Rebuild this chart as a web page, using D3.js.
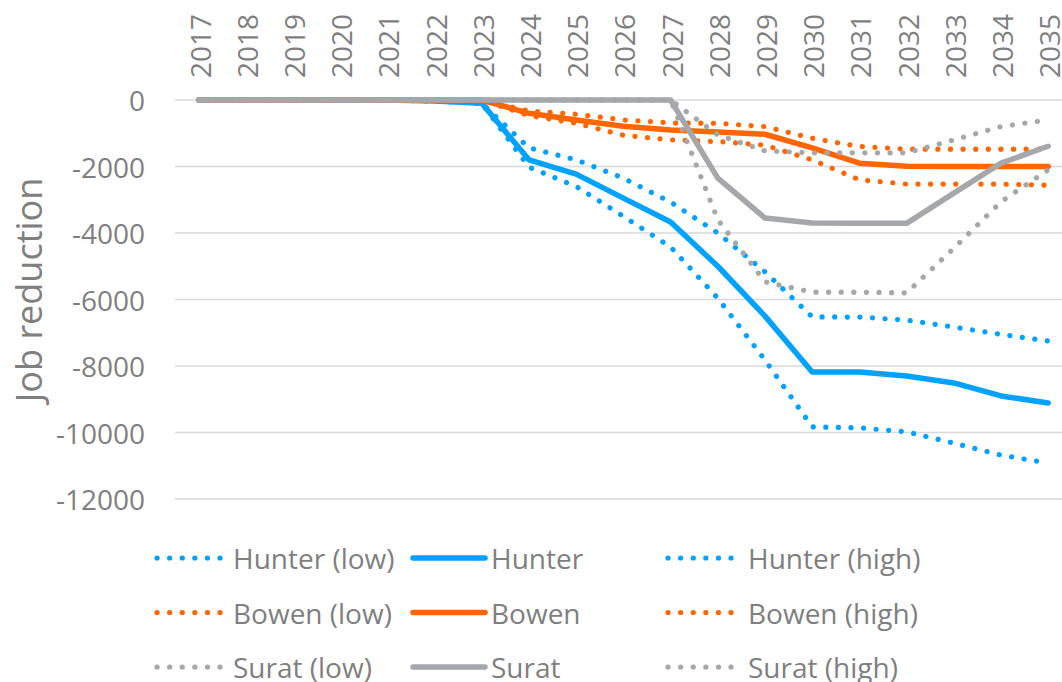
<!DOCTYPE html>
<html>
<head>
<meta charset="utf-8">
<script src="https://cdn.jsdelivr.net/npm/d3@7"></script>
<style>
    html, body { margin: 0; padding: 0; background: #fff; }
    svg { display: block; font-family: "Open Sans", sans-serif; }
    .tick-label, .legend text { fill: #7f7f7f; font-size: 28px; }
    .axis-title { fill: #7f7f7f; font-size: 36px; }
</style>
</head>
<body>
<div id="content"></div>
<script>
// Category labels (top axis)
var years = ["2017", "2018", "2019", "2020", "2021", "2022", "2023", "2024", "2025", "2026",
             "2027", "2028", "2029", "2030", "2031", "2032", "2033", "2034", "2035"];

var yTicks = [0, -2000, -4000, -6000, -8000, -10000, -12000];

// Series values
var hunterLow  = [0, 0, 0, 0, 0, -30, -100, -1440, -1800, -2350, -3070, -4000, -5170, -6520, -6530, -6620, -6830, -7050, -7250];
var hunter     = [0, 0, 0, 0, 0, -30, -100, -1800, -2230, -2950, -3670, -5000, -6500, -8180, -8180, -8300, -8510, -8900, -9110];
var hunterHigh = [0, 0, 0, 0, 0, -30, -100, -2020, -2600, -3500, -4420, -5960, -7820, -9830, -9860, -9980, -10320, -10680, -10920];

var bowenLow  = [0, 0, 0, 0, 0, 0, 0, -330, -430, -600, -690, -700, -800, -1150, -1400, -1480, -1480, -1480, -1480];
var bowen     = [0, 0, 0, 0, 0, 0, 0, -400, -600, -790, -900, -960, -1030, -1440, -1900, -1990, -2000, -2000, -2000];
var bowenHigh = [0, 0, 0, 0, 0, 0, 0, -470, -700, -1060, -1200, -1250, -1360, -1800, -2400, -2530, -2530, -2530, -2560];

var suratLow  = [0, 0, 0, 0, 0, 0, 0, 0, 0, 0, 0, -1050, -1530, -1590, -1590, -1590, -1200, -800, -600];
var surat     = [0, 0, 0, 0, 0, 0, 0, 0, 0, 0, 0, -2350, -3550, -3700, -3710, -3710, -2800, -1900, -1390];
var suratHigh = [0, 0, 0, 0, 0, 0, 0, 0, 0, 0, 0, -3600, -5470, -5780, -5780, -5800, -4460, -3060, -2100];

var seriesNames = ["Hunter (low)", "Hunter", "Hunter (high)",
                   "Bowen (low)", "Bowen", "Bowen (high)",
                   "Surat (low)", "Surat", "Surat (high)"];

var chart = (function () {

    "use strict";

    var width = 1062,
        height = 682,
        plotLeft = 175,
        plotTop = 100,
        plotBottom = 499,
        band = 47.2;

    var blue = "#00a2ff",
        orange = "#ff6600",
        grey = "#a5a7aa";

    // legend columns: where the key mark starts, how long it is, where the text starts
    var colMark = [157, 413, 668],
        colLen = [64, 72, 64],
        colText = [233, 491, 748];

    var series = [
        {name: seriesNames[0], values: hunterLow, color: blue, dotted: true},
        {name: seriesNames[1], values: hunter, color: blue, dotted: false},
        {name: seriesNames[2], values: hunterHigh, color: blue, dotted: true},
        {name: seriesNames[3], values: bowenLow, color: orange, dotted: true},
        {name: seriesNames[4], values: bowen, color: orange, dotted: false},
        {name: seriesNames[5], values: bowenHigh, color: orange, dotted: true},
        {name: seriesNames[6], values: suratLow, color: grey, dotted: true},
        {name: seriesNames[7], values: surat, color: grey, dotted: false},
        {name: seriesNames[8], values: suratHigh, color: grey, dotted: true}
    ];

    function styleLine(sel) {
        sel.attr("fill", "none")
            .attr("stroke", function (d) { return d.color; })
            .attr("stroke-width", function (d) { return d.dotted ? 5.2 : 5.5; })
            .attr("stroke-linecap", "round")
            .attr("stroke-linejoin", "round")
            .attr("stroke-dasharray", function (d) { return d.dotted ? "0.1,12.5" : null; });
    }

    function render() {

        var svg = d3.select("#content").append("svg")
            .attr("width", width)
            .attr("height", height);

        var x = d3.scalePoint()
            .domain(years)
            .range([plotLeft + band / 2, plotLeft + band * (years.length - 0.5)]);

        var y = d3.scaleLinear()
            .domain([-12000, 0])
            .range([plotBottom, plotTop]);

        // gridlines
        svg.append("g")
            .selectAll("line")
            .data(yTicks)
            .enter()
            .append("line")
            .attr("x1", plotLeft)
            .attr("x2", width)
            .attr("y1", function (d) { return y(d); })
            .attr("y2", function (d) { return y(d); })
            .attr("stroke", "#d9d9d9")
            .attr("stroke-width", 1.6);

        // value labels
        svg.append("g")
            .selectAll("text")
            .data(yTicks)
            .enter()
            .append("text")
            .attr("class", "tick-label")
            .attr("x", 145)
            .attr("y", function (d) { return y(d); })
            .attr("text-anchor", "end")
            .attr("dominant-baseline", "central")
            .text(function (d) { return d; });

        // category labels, rotated on top
        svg.append("g")
            .selectAll("text")
            .data(years)
            .enter()
            .append("text")
            .attr("class", "tick-label")
            .attr("transform", function (d) {
                return "translate(" + (x(d) + 1) + ",78) rotate(-90)";
            })
            .attr("text-anchor", "start")
            .attr("x", 0)
            .attr("dominant-baseline", "central")
            .text(function (d) { return d; });

        svg.append("text")
            .attr("class", "axis-title")
            .attr("transform", "translate(28,290) rotate(-90)")
            .attr("text-anchor", "middle")
            .attr("dominant-baseline", "central")
            .text("Job reduction");

        var line = d3.line()
            .x(function (d, i) { return x(years[i]); })
            .y(function (d) { return y(d); });

        svg.append("g")
            .selectAll("path")
            .data(series)
            .enter()
            .append("path")
            .attr("d", function (d) { return line(d.values); })
            .call(styleLine);

        // legend, three columns
        var legend = svg.append("g")
            .attr("class", "legend")
            .selectAll("g")
            .data(series)
            .enter()
            .append("g")
            .attr("transform", function (d, i) {
                return "translate(0," + (558 + Math.floor(i / 3) * 54.5) + ")";
            });

        legend.append("line")
            .attr("x1", function (d, i) { return colMark[i % 3]; })
            .attr("x2", function (d, i) { return colMark[i % 3] + colLen[i % 3]; })
            .attr("y1", 0)
            .attr("y2", 0)
            .call(styleLine);

        legend.append("text")
            .attr("x", function (d, i) { return colText[i % 3]; })
            .attr("y", 0)
            .attr("dominant-baseline", "central")
            .text(function (d) { return d.name; });
    }

    return {
        render: render
    };

}());

chart.render();
</script>
</body>
</html>
